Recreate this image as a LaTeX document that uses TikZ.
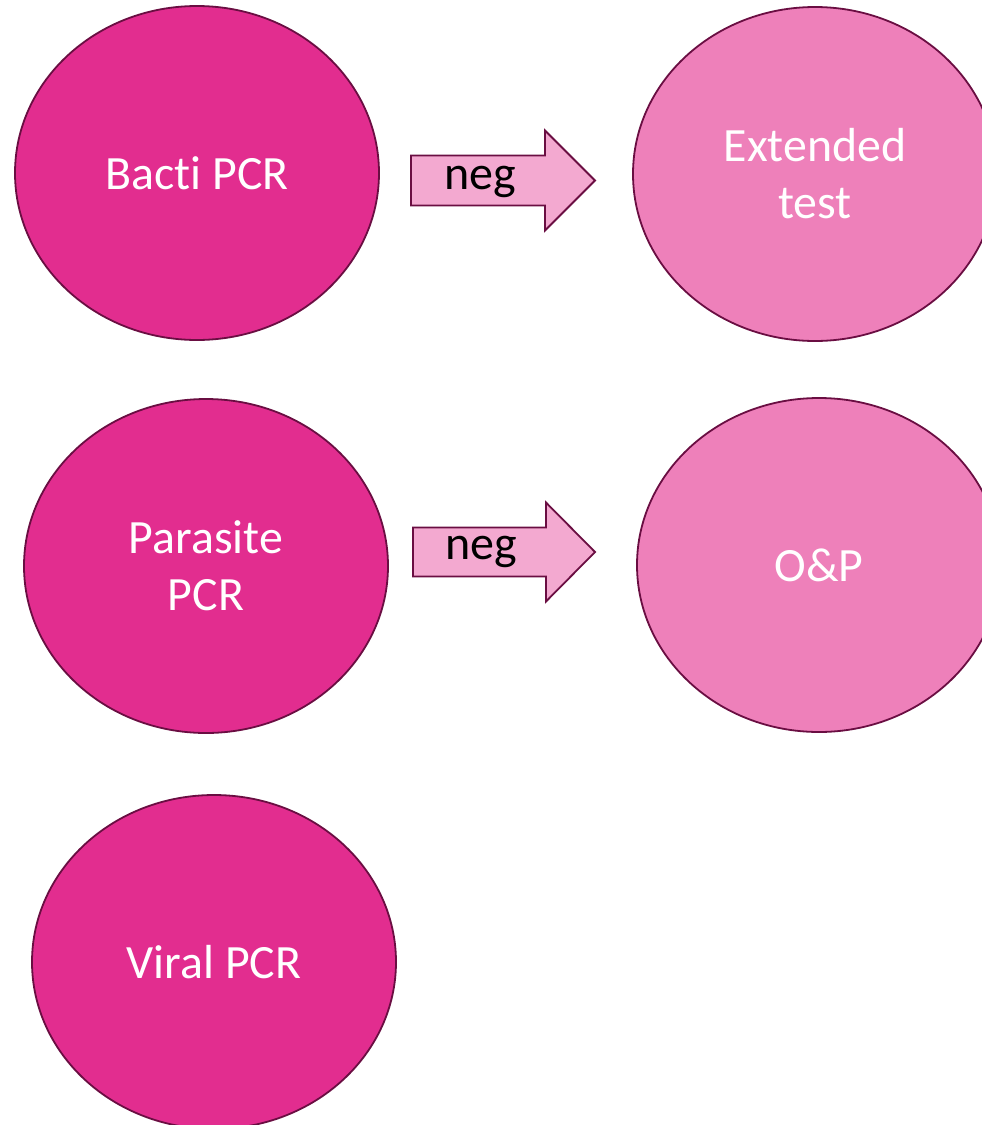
\documentclass[tikz,border=0pt]{standalone}
\usepackage{fontspec}
\setmainfont{Carlito}[Ligatures=NoCommon]
\usetikzlibrary{shapes.geometric}
\definecolor{testdark}{HTML}{E22D8F}
\definecolor{testlight}{HTML}{EE80BA}
\definecolor{arrowfill}{HTML}{F3A9D0}
\definecolor{edgecol}{HTML}{6A0E42}
\tikzset{
  bubble/.style={ellipse, draw=edgecol, line width=1.8pt, inner sep=0pt,
    minimum width=364pt, minimum height=334pt, text=white, align=center,
    font=\fontsize{47.8}{57}\selectfont},
  darkbubble/.style={bubble, fill=testdark},
  lightbubble/.style={bubble, fill=testlight},
  negarrow/.style={draw=edgecol, fill=arrowfill, line width=1.8pt, line join=miter},
  neglabel/.style={anchor=base, inner sep=0pt, text=black, font=\fontsize{48}{57}\selectfont},
}
\begin{document}
\begin{tikzpicture}[x=1pt, y=-1pt]
\useasboundingbox (0,0) rectangle (982,1125);
\clip (0,0) rectangle (982,1125);

% test circles
\node[darkbubble]  (bacti)    at (197,173) {Bacti PCR};
\node[lightbubble] (extended) at (815,174) {Extended\\test};
\node[darkbubble]  (parasite) at (206,566) {Parasite\\PCR};
\node[lightbubble] (op)       at (819,565) {O\&P};
\node[darkbubble]  (viral)    at (214,962) {Viral PCR};

% block arrows between the rows
\coordinate (a1) at (411,180);
\draw[negarrow] (a1) ++(0,-24.5) -- ++(134,0) -- ++(0,-25) -- ++(50,50)
  -- ++(-50,50) -- ++(0,-25) -- ++(-134,0) -- cycle;
\node[neglabel] (neg1) at (480,189) {neg};

\coordinate (a2) at (413,552);
\draw[negarrow] (a2) ++(0,-24.5) -- ++(133,0) -- ++(0,-25) -- ++(49,49.5)
  -- ++(-49,49.5) -- ++(0,-25) -- ++(-133,0) -- cycle;
\node[neglabel] (neg2) at (481,559) {neg};
\end{tikzpicture}
\end{document}
